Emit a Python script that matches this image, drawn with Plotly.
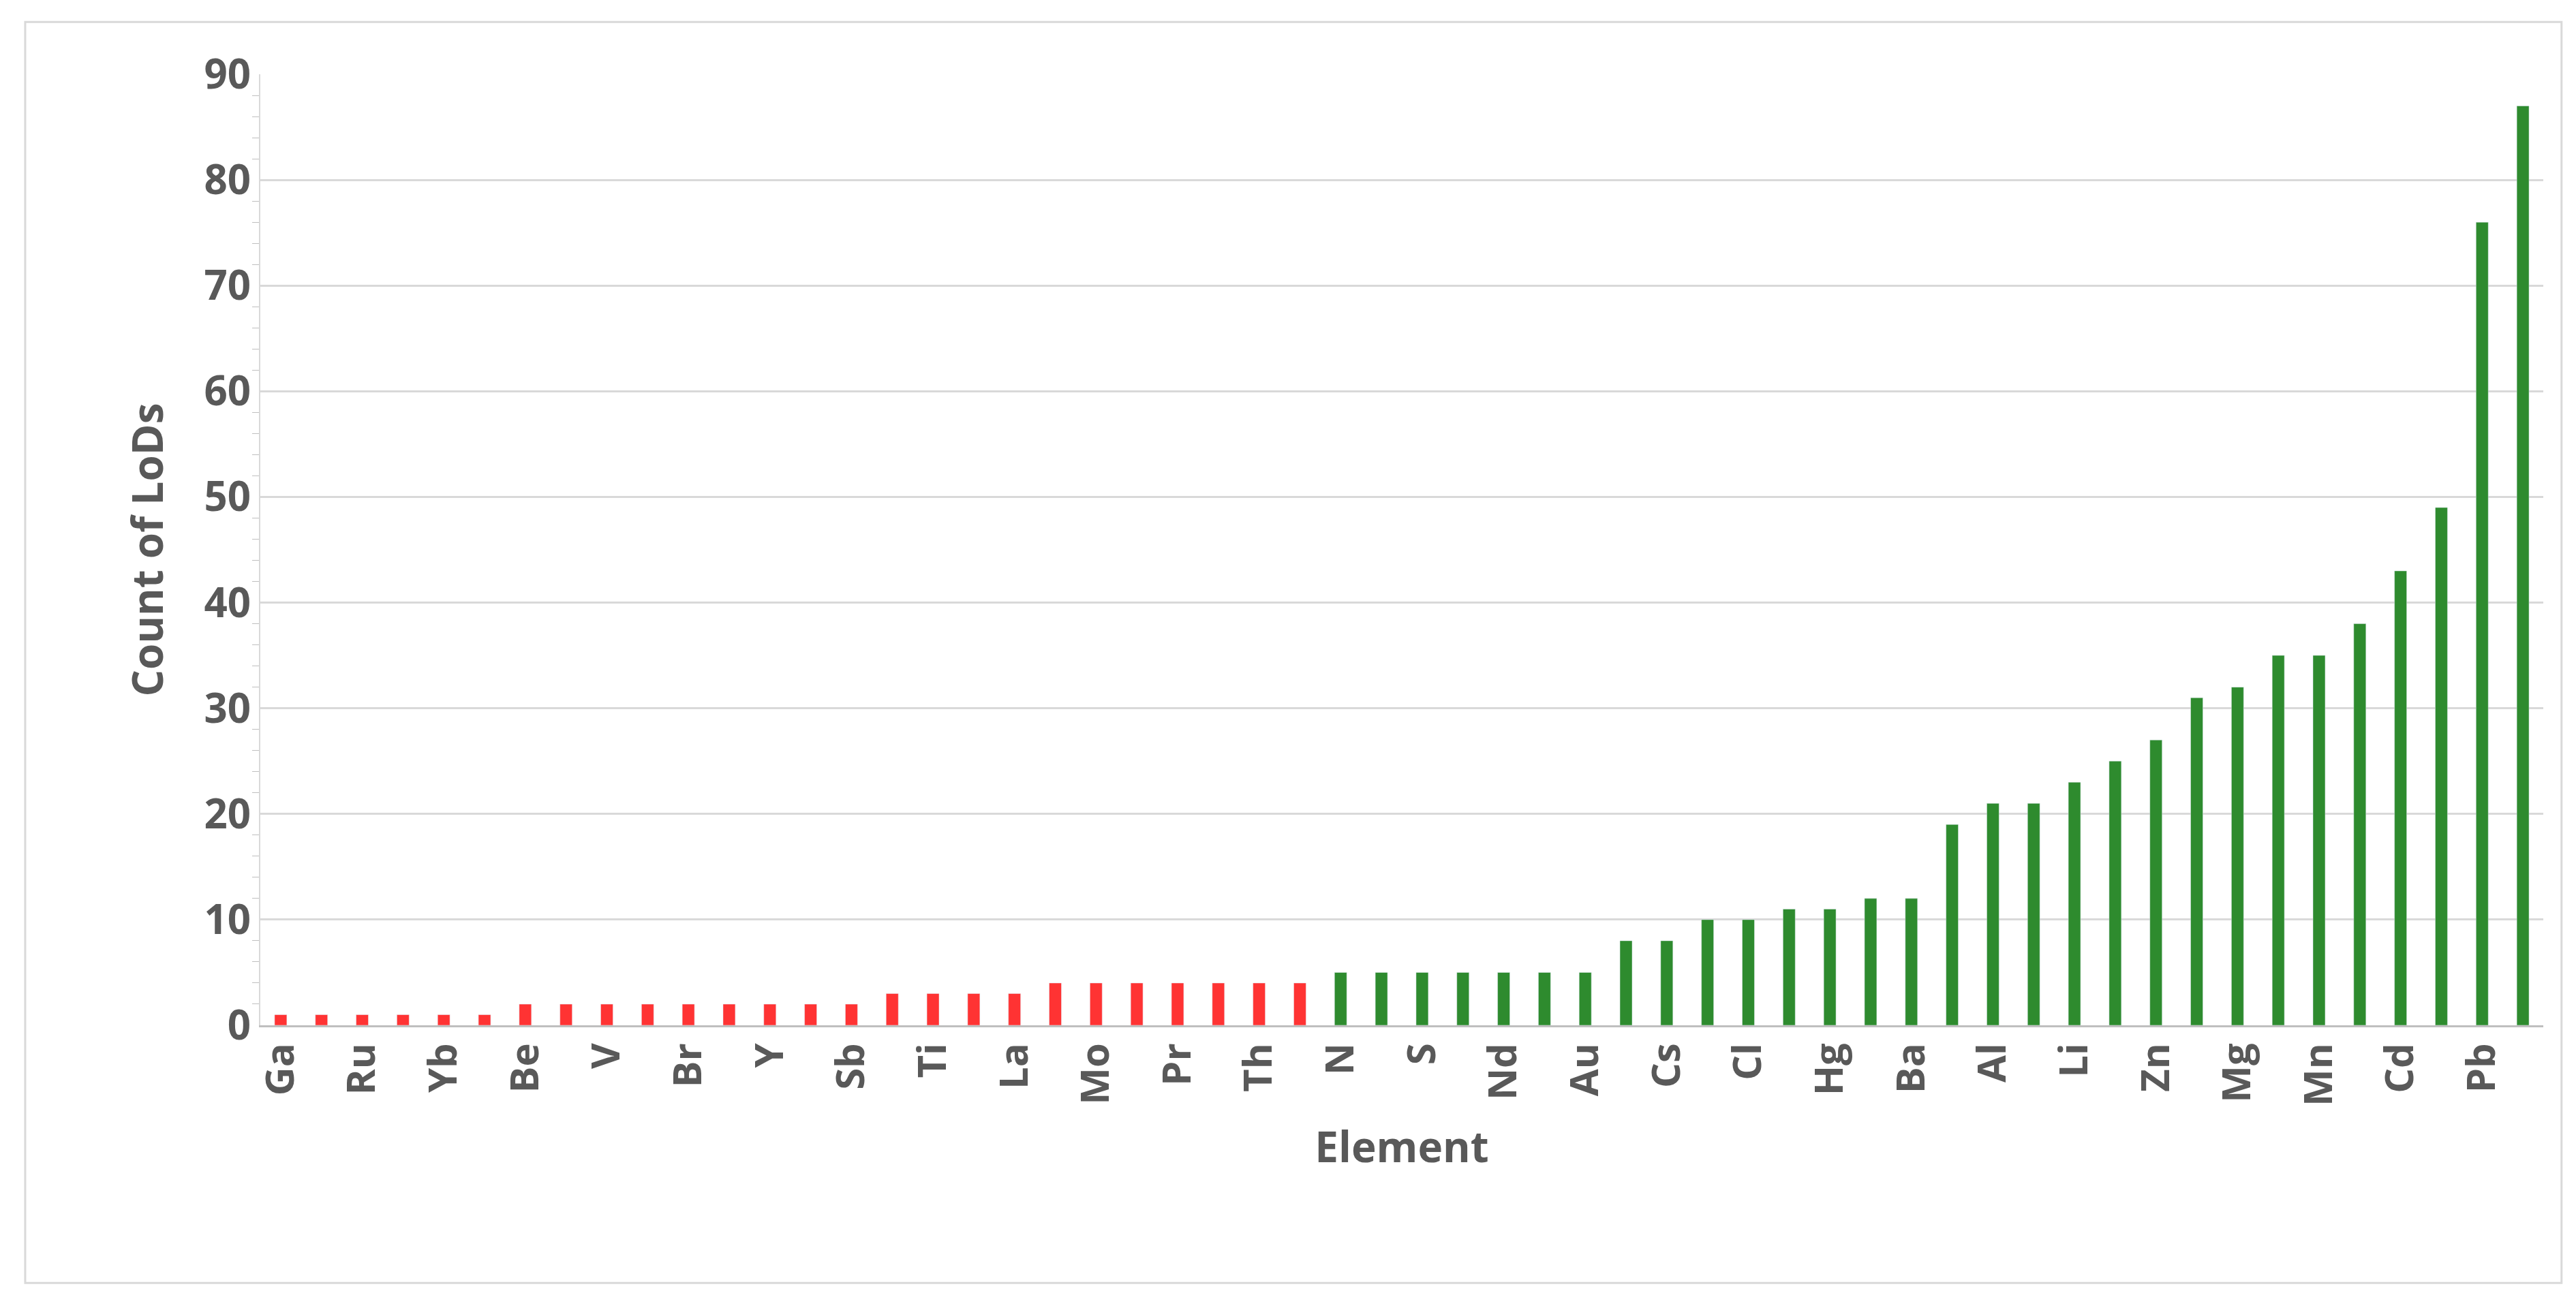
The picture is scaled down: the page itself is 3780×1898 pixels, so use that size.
import plotly.graph_objects as go

red_elements = ["Ga","Tc","Ru","Sm","Yb","Re","Be","P","V","Ge","Br","Rb","Y","In","Sb","Si","Ti","Se","La","Co","Mo","Sn","Pr","Gd","Th","U"]
red_counts = [1,1,1,1,1,1,2,2,2,2,2,2,2,2,2,3,3,3,3,4,4,4,4,4,4,4]
green_elements = ["N","F","S","Ce","Nd","Eu","Au","As","Cs","B","Cl","Ag","Hg","Zr","Ba","Fe","Al","Ni","Li","K","Zn","Sr","Mg","Ca","Mn","Na","Cd","Cu","Pb","Cr"]
green_counts = [5,5,5,5,5,5,5,8,8,10,10,11,11,12,12,19,21,21,23,25,27,31,32,35,35,38,43,49,76,87]

elements = red_elements + green_elements
counts = red_counts + green_counts
colors = ["#ff3333"] * len(red_elements) + ["#2e8b2e"] * len(green_elements)

fig = go.Figure(go.Bar(x=elements, y=counts, marker_color=colors, width=0.3))
font = "Open Sans"
grey = "#595959"
fig.update_layout(
    width=3780, height=1898, plot_bgcolor="white", paper_bgcolor="white",
    margin=dict(l=374, r=56, t=101, b=401),
    showlegend=False,
    font=dict(family=font, color=grey),
    xaxis=dict(title=dict(text="<b>Element</b>", font=dict(size=62, color=grey), standoff=40),
               tickangle=-90, tickfont=dict(size=58, color=grey, family=font),
               showline=True, linecolor="#bfbfbf", linewidth=3, ticks="", tickprefix="<b>", ticksuffix="</b>"),
    yaxis=dict(title=dict(text="<b>Count of LoDs</b>", font=dict(size=62, color=grey), standoff=40),
               range=[0, 90], dtick=10, tickfont=dict(size=60, color=grey, family=font),
               tickprefix="<b>", ticksuffix="</b>",
               gridcolor="#d9d9d9", gridwidth=3, zeroline=False,
               showline=True, linecolor="#d9d9d9", linewidth=2,
               minor=dict(dtick=2, ticks="outside", ticklen=10, tickcolor="#bfbfbf", showgrid=False)),
    shapes=[dict(type="rect", xref="paper", yref="paper", x0=-0.103, x1=1.008, y0=-0.271, y1=1.055,
                 line=dict(color="#d9d9d9", width=3))],
)
fig.write_html("out.html")
